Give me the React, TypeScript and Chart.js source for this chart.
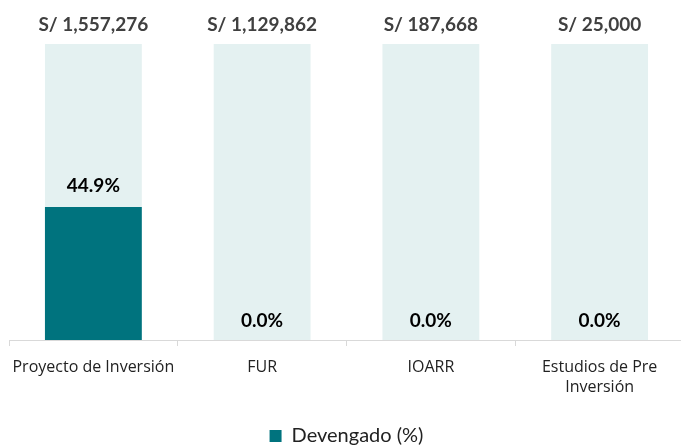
import React, { useEffect, useRef } from "react";
import { Chart, registerables } from "chart.js";

Chart.register(...registerables);

const categories: (string | string[])[] = [
  "Proyecto de Inversión",
  "FUR",
  "IOARR",
  ["Estudios de Pre", "Inversión"],
];
const presupuesto = [1557276, 1129862, 187668, 25000];
const devengadoPct = [44.9, 0.0, 0.0, 0.0];
const fullScale = [100, 100, 100, 100];

const DARK = "#00737E";
const LIGHT = "#E4F1F1";

const fmtSoles = (v: number) => "S/ " + v.toLocaleString("en-US");

const labelPlugin = {
  id: "barLabels",
  afterDatasetsDraw(chart: any) {
    const ctx = chart.ctx;
    const bg = chart.getDatasetMeta(1);
    const fg = chart.getDatasetMeta(0);
    ctx.save();
    ctx.textAlign = "center";
    ctx.textBaseline = "middle";
    bg.data.forEach((el: any, i: number) => {
      ctx.font = "bold 19px Lato";
      ctx.fillStyle = "#404040";
      ctx.fillText(fmtSoles(presupuesto[i]), el.x, el.y - 19);
    });
    fg.data.forEach((el: any, i: number) => {
      ctx.font = "bold 19px Lato";
      ctx.fillStyle = "#000000";
      const y = devengadoPct[i] > 0 ? el.y - 21 : el.y - 19;
      ctx.fillText(devengadoPct[i].toFixed(1) + "%", el.x, y);
    });
    ctx.restore();
  },
};

export default function App() {
  const ref = useRef<HTMLCanvasElement>(null);
  useEffect(() => {
    if (!ref.current) return;
    const chart = new Chart(ref.current, {
      type: "bar",
      data: {
        labels: categories,
        datasets: [
          {
            label: "Devengado (%)",
            data: devengadoPct,
            backgroundColor: DARK,
            grouped: false,
            order: 0,
            categoryPercentage: 1,
            barPercentage: 0.574,
          } as any,
          {
            label: "Presupuesto",
            data: fullScale,
            backgroundColor: LIGHT,
            grouped: false,
            order: 1,
            categoryPercentage: 1,
            barPercentage: 0.574,
          } as any,
        ],
      },
      options: {
        animation: false,
        responsive: true,
        maintainAspectRatio: false,
        layout: { padding: { top: 44, left: 9, right: 6, bottom: -10 } },
        scales: {
          y: { display: false, min: 0, max: 100 },
          x: {
            border: { color: "#D9D9D9", width: 1 },
            grid: {
              drawOnChartArea: false,
              drawTicks: true,
              tickLength: 6,
              color: "#D9D9D9",
            },
            ticks: {
              color: "#222222",
              font: { family: "Open Sans", size: 16, lineHeight: 1.25 },
              maxRotation: 0,
              autoSkip: false,
              padding: 11,
            },
            afterFit: (scale: any) => {
              scale.height = 83;
            },
          },
        },
        plugins: {
          tooltip: { enabled: false },
          legend: {
            position: "bottom",
            labels: {
              filter: (item: any) => item.datasetIndex === 0,
              boxWidth: 12,
              boxHeight: 12,
              color: "#222222",
              font: { family: "Lato", size: 20 },
              padding: 3,
            },
          },
        },
      },
      plugins: [labelPlugin],
    });
    return () => chart.destroy();
  }, []);
  return (
    <div style={{ position: "fixed", left: 0, top: 0, width: 681, height: 446, overflow: "hidden", background: "#fff" }}>
      <div style={{ position: "relative", width: 690, height: 446 }}>
        <canvas ref={ref} />
      </div>
    </div>
  );
}
